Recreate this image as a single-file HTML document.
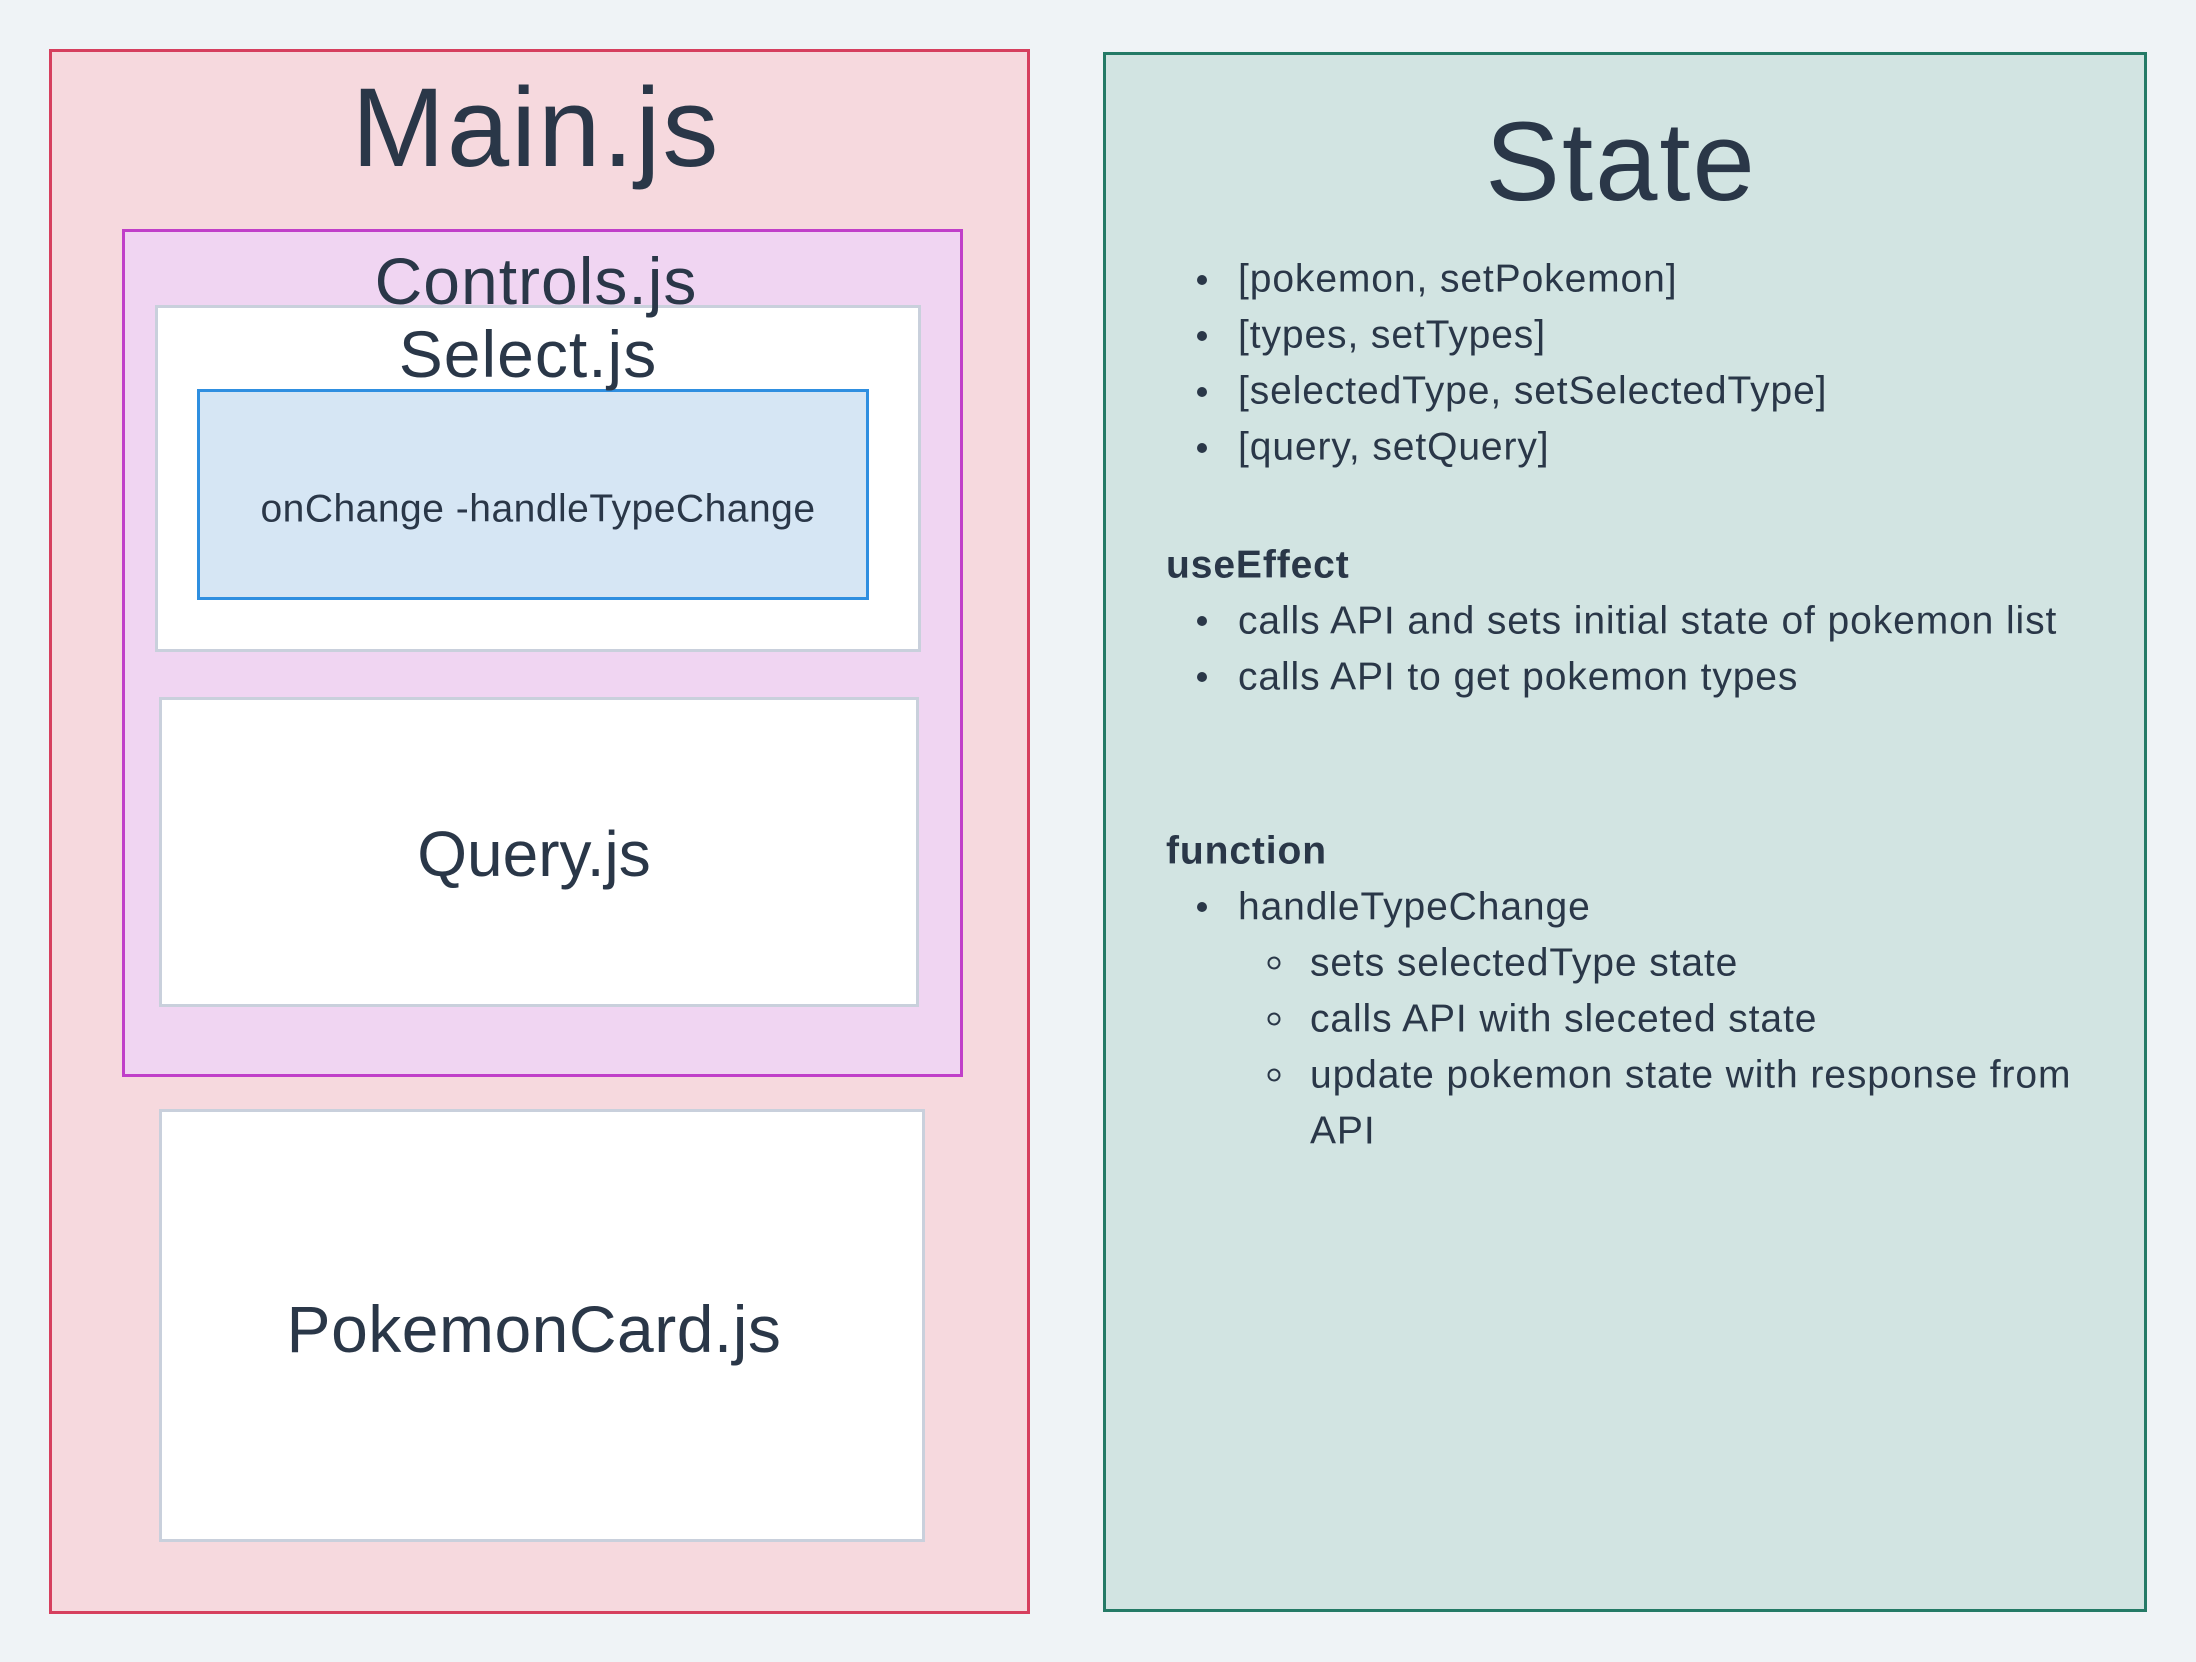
<!DOCTYPE html>
<html><head><meta charset="utf-8"><style>
html,body{margin:0;padding:0;}
body{width:2196px;height:1662px;background:#eff3f6;position:relative;overflow:hidden;font-family:"Liberation Sans",sans-serif;color:#2a3748;}
.b{position:absolute;box-sizing:border-box;}
.t{position:absolute;white-space:nowrap;transform:translate(-50%,-50%);line-height:1;}
.l{position:absolute;white-space:nowrap;line-height:1;transform:translateY(-50%);font-size:39px;letter-spacing:0.9px;}
.dot{position:absolute;width:10px;height:10px;border-radius:50%;background:#2a3748;transform:translate(-50%,-50%);}
.circ{position:absolute;width:9px;height:9px;border-radius:50%;border:2px solid #2a3748;transform:translate(-50%,-50%);}
</style></head><body>
<div class="b" style="left:49px;top:49px;width:981px;height:1565px;background:#f6d9de;border:3px solid #d63f5e;"></div>
<div class="b" style="left:1103px;top:52px;width:1044px;height:1560px;background:#d2e4e2;border:3px solid #247a66;"></div>
<div class="b" style="left:122px;top:229px;width:841px;height:848px;background:#f0d5f2;border:3px solid #c03fc9;"></div>
<div class="b" style="left:155px;top:305px;width:766px;height:347px;background:#fff;border:3px solid #c9d0dc;"></div>
<div class="b" style="left:197px;top:389px;width:672px;height:211px;background:#d6e6f4;border:3px solid #2f8fe0;"></div>
<div class="b" style="left:159px;top:697px;width:760px;height:310px;background:#fff;border:3px solid #c9d0dc;"></div>
<div class="b" style="left:159px;top:1109px;width:766px;height:433px;background:#fff;border:3px solid #c9d0dc;"></div>

<div class="t" style="left:536px;top:128px;font-size:112px;letter-spacing:2px;">Main.js</div>
<div class="t" style="left:1621px;top:162px;font-size:112px;letter-spacing:2px;">State</div>
<div class="t" style="left:536px;top:281px;font-size:66px;letter-spacing:1px;">Controls.js</div>
<div class="t" style="left:528px;top:354px;font-size:66px;letter-spacing:1px;">Select.js</div>
<div class="t" style="left:538px;top:509px;font-size:39px;letter-spacing:0.5px;">onChange -handleTypeChange</div>
<div class="t" style="left:534px;top:854px;font-size:64px;">Query.js</div>
<div class="t" style="left:534px;top:1329px;font-size:66px;letter-spacing:0.5px;">PokemonCard.js</div>

<div class="dot" style="left:1202px;top:280px"></div><div class="l" style="left:1238px;top:279px">[pokemon, setPokemon]</div>
<div class="dot" style="left:1202px;top:336px"></div><div class="l" style="left:1238px;top:335px">[types, setTypes]</div>
<div class="dot" style="left:1202px;top:392px"></div><div class="l" style="left:1238px;top:391px">[selectedType, setSelectedType]</div>
<div class="dot" style="left:1202px;top:448px"></div><div class="l" style="left:1238px;top:447px">[query, setQuery]</div>
<div class="l" style="left:1166px;top:565px;font-weight:bold">useEffect</div>
<div class="dot" style="left:1202px;top:621px"></div><div class="l" style="left:1238px;top:621px">calls API and sets initial state of pokemon list</div>
<div class="dot" style="left:1202px;top:677px"></div><div class="l" style="left:1238px;top:677px">calls API to get pokemon types</div>
<div class="l" style="left:1166px;top:851px;font-weight:bold">function</div>
<div class="dot" style="left:1202px;top:907px"></div><div class="l" style="left:1238px;top:907px">handleTypeChange</div>
<div class="circ" style="left:1274px;top:963px"></div><div class="l" style="left:1310px;top:963px">sets selectedType state</div>
<div class="circ" style="left:1274px;top:1019px"></div><div class="l" style="left:1310px;top:1019px">calls API with sleceted state</div>
<div class="circ" style="left:1274px;top:1075px"></div><div class="l" style="left:1310px;top:1075px">update pokemon state with response from</div>
<div class="l" style="left:1310px;top:1131px">API</div>
</body></html>
